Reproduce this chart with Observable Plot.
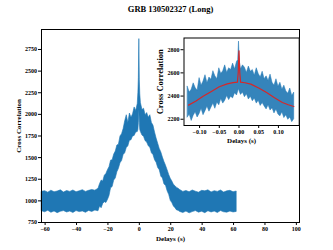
<!DOCTYPE html>
<html><head><meta charset="utf-8">
<script src="https://cdn.jsdelivr.net/npm/d3@7"></script>
<script src="https://cdn.jsdelivr.net/npm/@observablehq/plot@0.6"></script>
<style>
html,body{margin:0;padding:0;background:white;}
#wrap{position:relative;width:333px;height:250px;overflow:hidden;}
#wrap svg{position:absolute;}
</style>
</head><body><div id="wrap"></div>
<script>
const title = "GRB 130502327 (Long)";
const xLabel = "Delays (s)";
const yLabel = "Cross Correlation";
const mainXTicks = [-60, -40, -20, 0, 20, 40, 60, 80, 100];
const mainYTicks = [750, 1000, 1250, 1500, 1750, 2000, 2250, 2500, 2750];
const insetXTicks = [-0.10, -0.05, 0.00, 0.05, 0.10];
const insetYTicks = [2200, 2400, 2600, 2800];

const mainX = [-62,-60,-58,-56,-54,-52,-50,-48,-46,-44,-42,-40,-38,-36,-34,-32,-30,-28,-26,
  -25,-24,-23,-22,-21,-20,-19,-18,-17,-16,-15,-14,-13,-12,-11,-10,-9,-8,-7,-6,-5,-4,-3,-2,-1,
  -0.6,-0.3,0,0.3,0.6,
  1,2,3,4,5,6,7,8,9,10,11,12,13,14,15,16,17,18,19,20,21,22,23,24,25,
  26,28,30,32,34,36,38,40,42,44,46,48,50,52,54,56,58,60,62];
const mainHi = [1105,1112,1095,1118,1100,1108,1122,1096,1114,1104,1120,1100,1110,1124,1104,1116,1126,1118,1140,
  1195,1235,1225,1290,1310,1355,1390,1465,1470,1535,1570,1640,1650,1745,1770,1830,1920,1990,1900,2010,1960,2000,2080,2040,2120,
  2250,2420,2870,2400,2230,
  2130,2050,2065,1990,2015,1960,1990,1900,1870,1790,1720,1660,1600,1560,1500,1450,1405,1355,1300,1255,1225,1185,1170,1150,1140,
  1125,1104,1114,1100,1120,1106,1095,1116,1110,1122,1098,1112,1104,1120,1096,1110,1116,1100,1108];
const mainLo = [880,868,886,862,878,858,874,882,866,876,860,882,870,878,862,884,872,888,880,
  935,915,965,985,975,1010,1055,1145,1160,1235,1260,1330,1370,1435,1460,1530,1550,1610,1630,1695,1700,1745,1750,1790,1795,
  1820,1900,2050,1900,1820,
  1795,1755,1740,1690,1675,1630,1615,1550,1530,1470,1440,1380,1355,1280,1260,1190,1175,1110,1070,1000,975,935,915,890,885,
  872,860,876,856,870,882,864,874,858,880,866,876,860,882,868,864,876,866,872];

const insetX = [-0.130,-0.125,-0.120,-0.115,-0.110,-0.105,-0.100,-0.095,-0.090,-0.085,-0.080,-0.075,-0.070,-0.065,-0.060,-0.055,-0.050,-0.045,-0.040,-0.035,-0.030,-0.025,-0.020,-0.015,-0.010,-0.005,
  -0.002,0,0.002,
  0.005,0.010,0.015,0.020,0.025,0.030,0.035,0.040,0.045,0.050,0.055,0.060,0.065,0.070,0.075,0.080,0.085,0.090,0.095,0.100,0.105,0.110,0.115,0.120,0.125,0.130,0.135,0.140];
const insetHi = [2480,2430,2455,2510,2470,2445,2555,2490,2525,2580,2510,2560,2540,2615,2570,2545,2640,2590,2615,2665,2600,2640,2625,2680,2630,2695,
  2710,2870,2700,
  2630,2665,2645,2600,2655,2610,2625,2575,2640,2590,2560,2610,2545,2570,2530,2585,2515,2490,2545,2480,2515,2455,2490,2440,2420,2465,2400,2430];
const insetLo = [2215,2240,2185,2230,2260,2215,2245,2290,2235,2270,2310,2265,2300,2335,2290,2345,2320,2375,2335,2360,2400,2365,2395,2380,2425,2405,
  2440,2460,2435,
  2410,2430,2390,2415,2370,2395,2355,2380,2335,2360,2315,2340,2310,2285,2320,2275,2295,2250,2285,2240,2225,2260,2210,2235,2195,2215,2175,2200];

const fitX = [-0.128,-0.11,-0.09,-0.07,-0.05,-0.03,-0.015,-0.004,-0.002,0,0.002,0.004,0.015,0.03,0.05,0.07,0.09,0.11,0.125,0.139];
const fitY = [2322,2355,2400,2440,2480,2505,2516,2520,2600,2790,2600,2520,2515,2503,2470,2430,2385,2345,2325,2310];

const blue = "#1f77b4", red = "#d62728";
const font = "'Liberation Serif', 'DejaVu Serif', serif";

const mainData = mainX.map((x, i) => ({x, lo: mainLo[i], hi: mainHi[i]}));
const insetData = insetX.map((x, i) => ({x, lo: insetLo[i], hi: insetHi[i]}));
const fitData = fitX.map((x, i) => ({x, y: fitY[i]}));
const minus = d => (d < 0 ? "\u2212" : "") + Math.abs(d);

const main = Plot.plot({
  width: 333, height: 250,
  marginLeft: 41, marginRight: 34, marginTop: 29, marginBottom: 28,
  style: {fontFamily: font, fontSize: "6px", fontWeight: "bold", background: "white", color: "black"},
  x: {domain: [-62.3, 102], ticks: mainXTicks},
  y: {domain: [750, 2981], ticks: mainYTicks},
  marks: [
    Plot.areaY(mainData, {x: "x", y1: "lo", y2: "hi", fill: blue, stroke: blue, strokeWidth: 0.6}),
    Plot.frame({stroke: "black", strokeWidth: 1}),
    Plot.axisX({ticks: mainXTicks, tickSize: 3, tickPadding: 1.5, label: null, tickFormat: minus}),
    Plot.axisY({ticks: mainYTicks, tickSize: 3, tickPadding: 1.5, label: null, tickFormat: d => String(d)}),
    Plot.text([xLabel], {frameAnchor: "bottom", dy: 16, textAnchor: "middle", lineAnchor: "middle", fontSize: 7, fontWeight: "bold"}),
    Plot.text([yLabel], {frameAnchor: "left", dx: -23, rotate: -90, textAnchor: "middle", lineAnchor: "middle", fontSize: 7, fontWeight: "bold"}),
    Plot.text([title], {frameAnchor: "top", dy: -20, textAnchor: "middle", lineAnchor: "middle", fontSize: 8.5, fontWeight: "bold"})
  ]
});
main.style.left = "0px"; main.style.top = "0px";

const fmt2 = d => (d < 0 ? "\u2212" : "") + Math.abs(d).toFixed(2);
const inset = Plot.plot({
  width: 183, height: 120,
  marginLeft: 33.5, marginRight: 34.3, marginTop: 7.5, marginBottom: 25,
  style: {fontFamily: font, fontSize: "6px", fontWeight: "bold", background: "transparent", color: "black", overflow: "visible"},
  x: {domain: [-0.1395, 0.1527], ticks: insetXTicks},
  y: {domain: [2146, 2901], ticks: insetYTicks},
  marks: [
    Plot.frame({fill: "white"}),
    Plot.areaY(insetData, {x: "x", y1: "lo", y2: "hi", fill: blue, fillOpacity: 0.9, stroke: blue, strokeWidth: 0.5}),
    Plot.line(fitData, {x: "x", y: "y", stroke: red, strokeWidth: 1.2}),
    Plot.frame({stroke: "black", strokeWidth: 1}),
    Plot.axisX({ticks: insetXTicks, tickSize: 3, tickPadding: 1.5, label: null, tickFormat: fmt2}),
    Plot.axisY({ticks: insetYTicks, tickSize: 3, tickPadding: 1.5, label: null, tickFormat: d => String(d)}),
    Plot.text([xLabel], {frameAnchor: "bottom", dy: 15, textAnchor: "middle", lineAnchor: "middle", fontSize: 7, fontWeight: "bold"}),
    Plot.text([yLabel], {frameAnchor: "left", dx: -23.5, rotate: -90, textAnchor: "middle", lineAnchor: "middle", fontSize: 8.5, fontWeight: "bold"})
  ]
});
inset.style.left = "150px"; inset.style.top = "30px";

const wrap = document.getElementById("wrap");
wrap.appendChild(main);
wrap.appendChild(inset);
</script>
</body></html>
